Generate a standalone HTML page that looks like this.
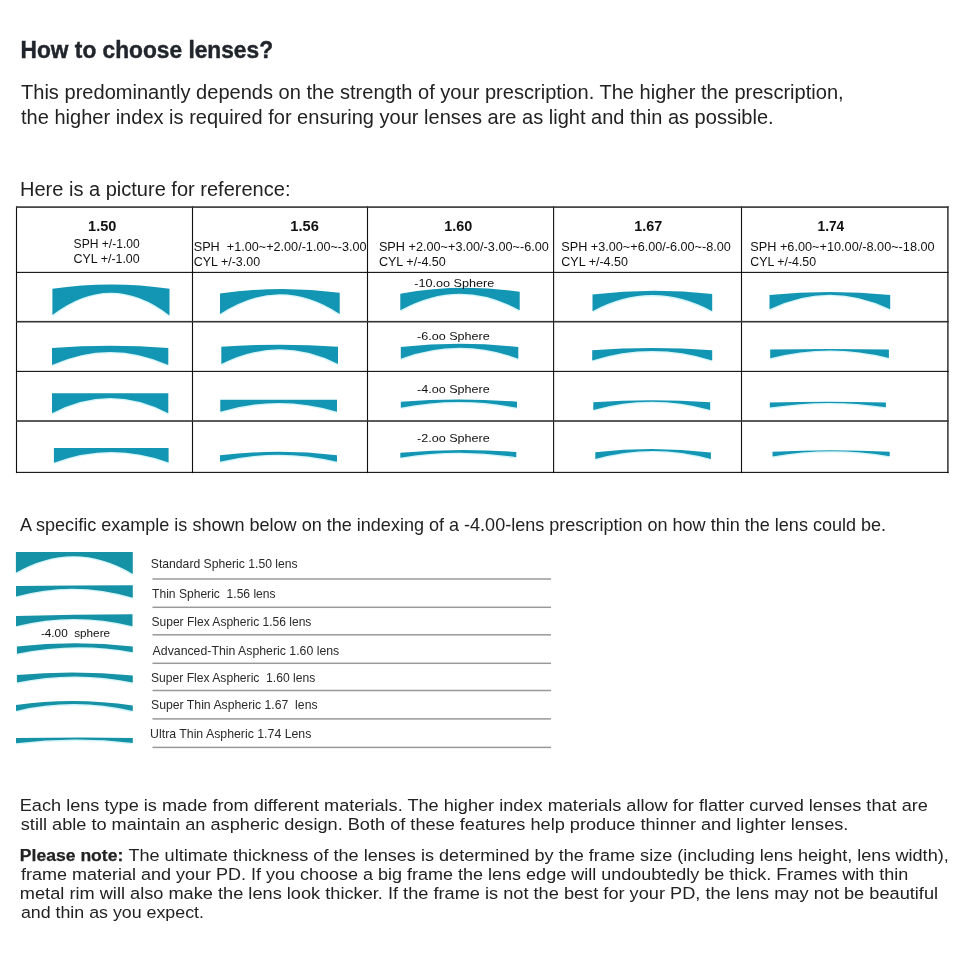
<!DOCTYPE html>
<html><head><meta charset="utf-8"><title>How to choose lenses?</title>
<style>
html,body{margin:0;padding:0;background:#fff;}
body{width:960px;height:960px;overflow:hidden;position:relative;font-family:"Liberation Sans",sans-serif;}
svg{position:absolute;left:0;top:0;display:block;will-change:transform;}
svg text{font-family:"Liberation Sans",sans-serif;white-space:pre;}
</style></head><body>
<svg width="960" height="960" viewBox="0 0 960 960">
<g><rect x="15.95" y="206.3" width="1.1" height="266.8" fill="#111"/><rect x="191.95" y="206.3" width="1.1" height="266.8" fill="#111"/><rect x="366.95" y="206.3" width="1.1" height="266.8" fill="#111"/><rect x="553.05" y="206.3" width="1.1" height="266.8" fill="#111"/><rect x="740.95" y="206.3" width="1.1" height="266.8" fill="#111"/><rect x="947.15" y="206.3" width="1.5" height="266.8" fill="#333"/><rect x="16" y="206.3" width="932.6" height="1.6" fill="#333"/><rect x="16" y="271.85" width="932.6" height="1.1" fill="#111"/><rect x="16" y="320.9" width="932.6" height="1.6" fill="#333"/><rect x="16" y="370.85" width="932.6" height="1.1" fill="#111"/><rect x="16" y="420.2" width="932.6" height="1.6" fill="#333"/><rect x="16" y="471.85" width="932.6" height="1.1" fill="#111"/></g>
<g fill="none" stroke="#d2f6fa" stroke-width="1.4" transform="translate(0 0.6)"><path d="M169 315.4Q110.95 270.35 52.9 315.1"/><path d="M339.2 314Q279.85 274.6 220.5 314"/><path d="M519.2 310.3Q460 277.1 400.8 310.3"/><path d="M711.7 311.2Q652.35 279 593 311.2"/><path d="M889.7 309.3Q829.85 280.2 770 309.3"/><path d="M167.8 365.1Q110.15 338.9 52.5 365.1"/><path d="M337.5 364Q279.65 334.6 221.8 364"/><path d="M517.8 358.7Q459.55 336.9 401.3 358.7"/><path d="M711.7 360.4Q652.2 341.6 592.7 360.4"/><path d="M888.4 358Q829.55 342.85 770.7 358.3"/><path d="M167.8 413.2Q110.15 382.6 52.5 413.2"/><path d="M336.5 411.8Q278.65 394.2 220.8 411.8"/><path d="M516.5 407.8Q458.9 396.2 401.3 407.8"/><path d="M709.7 410Q651.75 393.6 593.8 410"/><path d="M885.4 407.25Q827.85 398.37 770.3 407.6"/><path d="M168.1 462.5Q111.25 441.38 54.4 462.75"/><path d="M336.5 461.8Q278.5 447.6 220.5 461.8"/><path d="M515.8 457.3Q458.3 448.05 400.8 457.8"/><path d="M710.4 459.1Q653.1 442.9 595.8 459.1"/><path d="M889.2 456.2Q831.1 446.25 773 456.5"/><path d="M132.3 573.9Q74.35 539.15 16.4 572.8"/><path d="M132.3 597.8Q74.4 580.3 16.5 596.6"/><path d="M132 626.2Q74.25 611.6 16.5 626.2"/><path d="M132.3 652.2Q74.85 641.43 17.4 653.75"/><path d="M132.3 682.6Q74.85 670.6 17.4 682.6"/><path d="M132.3 711.1Q74.4 697.2 16.5 710.9"/><path d="M132.3 743Q74.4 736.1 16.5 743.2"/></g>
<g fill="#1296b3"><path d="M52.4 288.8Q110.95 280.2 169.5 288.8L169.5 315.4Q110.95 270.35 52.4 315.1Z"/><path d="M220 293.5Q279.85 284.9 339.7 292.7L339.7 314Q279.85 274.6 220 314Z"/><path d="M400.3 293.7Q460 282.9 519.7 291.7L519.7 310.3Q460 277.1 400.3 310.3Z"/><path d="M592.5 294.4Q652.35 287.4 712.2 294L712.2 311.2Q652.35 279 592.5 311.2Z"/><path d="M769.5 295Q829.85 289 890.2 295L890.2 309.3Q829.85 280.2 769.5 309.3Z"/><path d="M52 347.9Q110.15 343.5 168.3 347.9L168.3 365.1Q110.15 338.9 52 365.1Z"/><path d="M221.3 346.8Q279.65 342.6 338 346.8L338 364Q279.65 334.6 221.3 364Z"/><path d="M400.8 347Q459.55 340.4 518.3 347L518.3 358.7Q459.55 336.9 400.8 358.7Z"/><path d="M592.2 350.2Q652.2 345.6 712.2 350.2L712.2 360.4Q652.2 341.6 592.2 360.4Z"/><path d="M770.2 349.4Q829.55 348.8 888.9 349.4L888.9 358Q829.55 342.85 770.2 358.3Z"/><path d="M52 393.2Q110.15 393.2 168.3 393.2L168.3 413.2Q110.15 382.6 52 413.2Z"/><path d="M220.3 399.7Q278.65 399.7 337 399.7L337 411.8Q278.65 394.2 220.3 411.8Z"/><path d="M400.8 401.7Q458.9 397.3 517 401.7L517 407.8Q458.9 396.2 400.8 407.8Z"/><path d="M593.3 402.25Q651.75 398.15 710.2 402.25L710.2 410Q651.75 393.6 593.3 410Z"/><path d="M769.8 402.6Q827.85 401 885.9 402.6L885.9 407.25Q827.85 398.37 769.8 407.6Z"/><path d="M53.9 447.9Q111.25 447.9 168.6 447.9L168.6 462.5Q111.25 441.38 53.9 462.75Z"/><path d="M220 455.2Q278.5 448.4 337 455.2L337 461.8Q278.5 447.6 220 461.8Z"/><path d="M400.3 452.8Q458.3 447.6 516.3 452L516.3 457.3Q458.3 448.05 400.3 457.8Z"/><path d="M595.3 452.25Q653.1 445.78 710.9 452.6L710.9 459.1Q653.1 442.9 595.3 459.1Z"/><path d="M772.5 451.8Q831.1 448.6 889.7 451.8L889.7 456.2Q831.1 446.25 772.5 456.5Z"/></g>
<g fill="#1592a6"><path d="M15.9 552Q74.35 552 132.8 552L132.8 573.9Q74.35 539.15 15.9 572.8Z"/><path d="M16 585.9Q74.4 585.45 132.8 585.2L132.8 597.8Q74.4 580.3 16 596.6Z"/><path d="M16 616Q74.25 614.45 132.5 614.3L132.5 626.2Q74.25 611.6 16 626.2Z"/><path d="M16.9 646.4Q74.85 640.2 132.8 646.4L132.8 652.2Q74.85 641.43 16.9 653.75Z"/><path d="M16.9 675Q74.85 669.7 132.8 675.6L132.8 682.6Q74.85 670.6 16.9 682.6Z"/><path d="M16 705Q74.4 696.9 132.8 705.6L132.8 711.1Q74.4 697.2 16 710.9Z"/><path d="M16 738.1Q74.4 737.2 132.8 737.9L132.8 743Q74.4 736.1 16 743.2Z"/></g>
<g fill="#999"><rect x="152.5" y="578.25" width="398.5" height="1.5"/><rect x="152.5" y="606.55" width="398.5" height="1.5"/><rect x="152.5" y="634.05" width="398.5" height="1.5"/><rect x="152.5" y="662.55" width="398.5" height="1.5"/><rect x="152.5" y="689.75" width="398.5" height="1.5"/><rect x="152.5" y="718.15" width="398.5" height="1.5"/><rect x="152.5" y="746.65" width="398.5" height="1.5"/></g>
<text x="20.55" y="57.7" font-size="24" font-weight="bold" stroke="#1f252b" stroke-width="0.45" fill="#1f252b" textLength="252.47" lengthAdjust="spacingAndGlyphs">How to choose lenses?</text>
<text x="21" y="98.7" font-size="20.5" fill="#222222" textLength="822.66" lengthAdjust="spacingAndGlyphs">This predominantly depends on the strength of your prescription. The higher the prescription,</text>
<text x="21" y="123.9" font-size="20.5" fill="#222222" textLength="752.66" lengthAdjust="spacingAndGlyphs">the higher index is required for ensuring your lenses are as light and thin as possible.</text>
<text x="19.98" y="195.8" font-size="19.6" fill="#222222" textLength="270.5" lengthAdjust="spacingAndGlyphs">Here is a picture for reference:</text>
<text x="88.1" y="230.7" font-size="15" font-weight="bold" fill="#111111" textLength="28.23" lengthAdjust="spacingAndGlyphs">1.50</text>
<text x="290.3" y="230.7" font-size="15" font-weight="bold" fill="#111111" textLength="28.53" lengthAdjust="spacingAndGlyphs">1.56</text>
<text x="444.3" y="230.8" font-size="15" font-weight="bold" fill="#111111" textLength="28.03" lengthAdjust="spacingAndGlyphs">1.60</text>
<text x="634.2" y="230.7" font-size="15" font-weight="bold" fill="#111111" textLength="28.03" lengthAdjust="spacingAndGlyphs">1.67</text>
<text x="817.5" y="230.7" font-size="15" font-weight="bold" fill="#111111" textLength="26.7" lengthAdjust="spacingAndGlyphs">1.74</text>
<text x="73.6" y="247.6" font-size="12" fill="#111111" textLength="66.17" lengthAdjust="spacingAndGlyphs">SPH +/-1.00</text>
<text x="73.6" y="262.5" font-size="12" fill="#111111" textLength="66.07" lengthAdjust="spacingAndGlyphs">CYL +/-1.00</text>
<text x="193.75" y="250.9" font-size="12" fill="#111111" textLength="172.91" lengthAdjust="spacingAndGlyphs">SPH  +1.00~+2.00/-1.00~-3.00</text>
<text x="193.75" y="265.9" font-size="12" fill="#111111" textLength="66.31" lengthAdjust="spacingAndGlyphs">CYL +/-3.00</text>
<text x="378.9" y="250.9" font-size="12" fill="#111111" textLength="169.96" lengthAdjust="spacingAndGlyphs">SPH +2.00~+3.00/-3.00~-6.00</text>
<text x="378.9" y="265.9" font-size="12" fill="#111111" textLength="66.96" lengthAdjust="spacingAndGlyphs">CYL +/-4.50</text>
<text x="561.3" y="250.8" font-size="12" fill="#111111" textLength="169.56" lengthAdjust="spacingAndGlyphs">SPH +3.00~+6.00/-6.00~-8.00</text>
<text x="561.3" y="265.9" font-size="12" fill="#111111" textLength="66.66" lengthAdjust="spacingAndGlyphs">CYL +/-4.50</text>
<text x="750.3" y="250.8" font-size="12" fill="#111111" textLength="184.35" lengthAdjust="spacingAndGlyphs">SPH +6.00~+10.00/-8.00~-18.00</text>
<text x="750.3" y="265.8" font-size="12" fill="#111111" textLength="65.77" lengthAdjust="spacingAndGlyphs">CYL +/-4.50</text>
<text x="414.2" y="286.7" font-size="11.8" fill="#111111" textLength="80.03" lengthAdjust="spacingAndGlyphs">-10.oo Sphere</text>
<text x="417" y="340" font-size="11.8" fill="#111111" textLength="72.83" lengthAdjust="spacingAndGlyphs">-6.oo Sphere</text>
<text x="417" y="392.8" font-size="11.8" fill="#111111" textLength="72.83" lengthAdjust="spacingAndGlyphs">-4.oo Sphere</text>
<text x="417" y="442.3" font-size="11.8" fill="#111111" textLength="72.83" lengthAdjust="spacingAndGlyphs">-2.oo Sphere</text>
<text x="20" y="531" font-size="18.5" fill="#222222" textLength="866.11" lengthAdjust="spacingAndGlyphs">A specific example is shown below on the indexing of a -4.00-lens prescription on how thin the lens could be.</text>
<text x="150.8" y="567.8" font-size="13.5" fill="#2a2a2a" textLength="146.87" lengthAdjust="spacingAndGlyphs">Standard Spheric 1.50 lens</text>
<text x="152.1" y="598.4" font-size="13.5" fill="#2a2a2a" textLength="123.48" lengthAdjust="spacingAndGlyphs">Thin Spheric  1.56 lens</text>
<text x="151.5" y="625.8" font-size="13.5" fill="#2a2a2a" textLength="159.88" lengthAdjust="spacingAndGlyphs">Super Flex Aspheric 1.56 lens</text>
<text x="152.6" y="655.2" font-size="13.5" fill="#2a2a2a" textLength="186.67" lengthAdjust="spacingAndGlyphs">Advanced-Thin Aspheric 1.60 lens</text>
<text x="151" y="681.6" font-size="13.5" fill="#2a2a2a" textLength="164.28" lengthAdjust="spacingAndGlyphs">Super Flex Aspheric  1.60 lens</text>
<text x="151" y="708.7" font-size="13.5" fill="#2a2a2a" textLength="166.57" lengthAdjust="spacingAndGlyphs">Super Thin Aspheric 1.67  lens</text>
<text x="150.09" y="737.5" font-size="13.5" fill="#2a2a2a" textLength="161.28" lengthAdjust="spacingAndGlyphs">Ultra Thin Aspheric 1.74 Lens</text>
<text x="40.9" y="636.9" font-size="11.5" fill="#111111" textLength="69.2" lengthAdjust="spacingAndGlyphs">-4.00  sphere</text>
<text x="19.76" y="810.8" font-size="17.4" fill="#222222" textLength="908.14" lengthAdjust="spacingAndGlyphs">Each lens type is made from different materials. The higher index materials allow for flatter curved lenses that are</text>
<text x="20.8" y="829.7" font-size="17.4" fill="#222222" textLength="827.57" lengthAdjust="spacingAndGlyphs">still able to maintain an aspheric design. Both of these features help produce thinner and lighter lenses.</text>
<text x="19.89" y="860.8" font-size="17.4" font-weight="bold" stroke="#222222" stroke-width="0.25" fill="#222222" textLength="103.41" lengthAdjust="spacingAndGlyphs">Please note:</text>
<text x="128.4" y="860.8" font-size="17.4" fill="#222222" textLength="820.36" lengthAdjust="spacingAndGlyphs">The ultimate thickness of the lenses is determined by the frame size (including lens height, lens width),</text>
<text x="20.9" y="879.6" font-size="17.4" fill="#222222" textLength="887.4" lengthAdjust="spacingAndGlyphs">frame material and your PD. If you choose a big frame the lens edge will undoubtedly be thick. Frames with thin</text>
<text x="19.85" y="898.7" font-size="17.4" fill="#222222" textLength="918.25" lengthAdjust="spacingAndGlyphs">metal rim will also make the lens look thicker. If the frame is not the best for your PD, the lens may not be beautiful</text>
<text x="20.9" y="917.6" font-size="17.4" fill="#222222" textLength="183.05" lengthAdjust="spacingAndGlyphs">and thin as you expect.</text>
</svg>
</body></html>
